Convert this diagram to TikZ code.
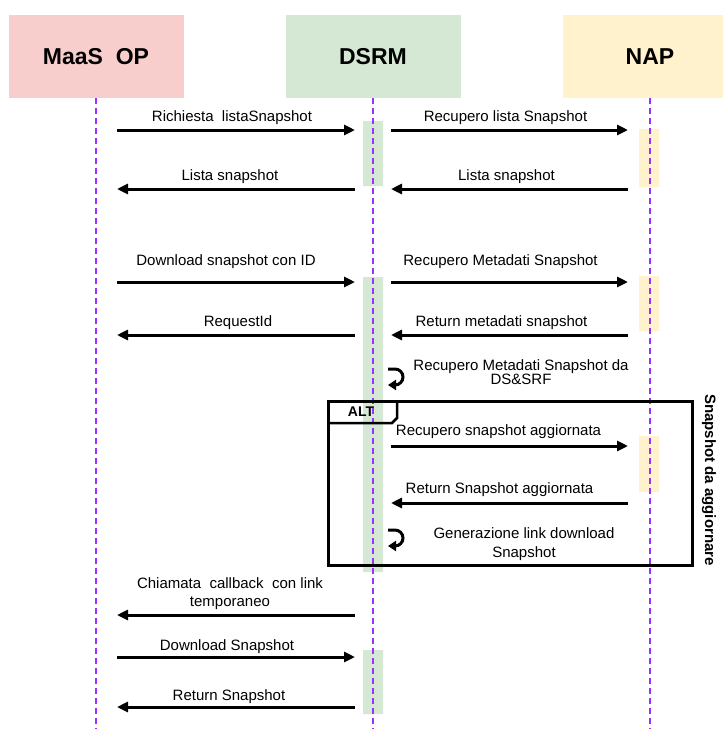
\documentclass[tikz,border=0pt]{standalone}
\usepackage{fontspec}
\setmainfont{Liberation Sans}
\usetikzlibrary{arrows.meta}
\definecolor{maasred}{HTML}{F8CECC}
\definecolor{dsrmgreen}{HTML}{D5E8D4}
\definecolor{napyellow}{HTML}{FFF2CC}
\definecolor{lifeviolet}{HTML}{9B30FF}
\tikzset{
  hdr/.style={minimum width=175pt,minimum height=83pt,inner sep=0pt,font=\fontsize{23}{26}\selectfont\bfseries},
  life/.style={lifeviolet,line width=1.8pt,dash pattern=on 6pt off 4pt},
  msg/.style={line width=3pt,-{Triangle[length=11pt,width=10pt]}},
  selfmsg/.style={line width=3pt,-{Triangle[length=8pt,width=10pt]}},
  lbl/.style={midway,anchor=base,yshift=9pt,xshift=-6pt,inner sep=0pt,font=\fontsize{15}{18}\selectfont},
  note/.style={inner sep=0pt,align=center,font=\fontsize{15}{19}\selectfont}
}
\begin{document}
\begin{tikzpicture}[x=1pt,y=1pt]
\useasboundingbox (0,0) rectangle (723,-729);
\node[hdr,fill=maasred] (maas) at (96,-56.5) {MaaS~ OP};
\node[hdr,fill=dsrmgreen] (dsrm) at (373,-56.5) {DSRM};
\node[hdr,fill=napyellow] (nap) at (650,-56.5) {NAP};
\fill[dsrmgreen] (363,-121) rectangle (383,-186) (363,-277) rectangle (383,-572) (363,-650) rectangle (383,-714);
\fill[napyellow] (639,-129) rectangle (659,-187) (639,-276) rectangle (659,-331) (639,-436) rectangle (659,-492);
\foreach \n in {maas,dsrm,nap} \draw[life] (\n.south) -- (\n.south |- 0,-729);
\foreach \r/\y in {1/130,2/189,3/282,4/335,5/446,6/503,7/615,8/657,9/707}{
  \coordinate (m\r) at (117,-\y); \coordinate (dl\r) at (355,-\y);
  \coordinate (dr\r) at (391,-\y); \coordinate (n\r) at (628,-\y);
}
\draw[msg] (m1) -- (dl1) node[lbl,xshift=2pt]{Richiesta~ listaSnapshot};
\draw[msg] (dr1) -- (n1) node[lbl,xshift=2pt]{Recupero lista Snapshot};
\draw[msg] (dl2) -- (m2) node[lbl]{Lista snapshot};
\draw[msg] (n2) -- (dr2) node[lbl,xshift=3pt]{Lista snapshot};
\draw[msg] (m3) -- (dl3) node[lbl,yshift=8pt,xshift=-4pt]{Download snapshot con ID};
\draw[msg] (dr3) -- (n3) node[lbl,yshift=8pt,xshift=-3pt]{Recupero Metadati Snapshot};
\draw[msg] (dl4) -- (m4) node[lbl,xshift=8pt]{RequestId};
\draw[msg] (n4) -- (dr4) node[lbl,xshift=-2pt]{Return metadati snapshot};
\draw[msg] (dr5) -- (n5) node[lbl,yshift=2pt,xshift=-5pt]{Recupero snapshot aggiornata};
\draw[msg] (n6) -- (dr6) node[lbl,yshift=1pt,xshift=-4pt]{Return Snapshot aggiornata};
\draw[msg] (dl7) -- (m7) node[lbl,anchor=south,yshift=-5pt,align=center]{Chiamata~ callback~ con link\\temporaneo};
\draw[msg] (m8) -- (dl8) node[lbl,yshift=-2pt,xshift=-3pt]{Download Snapshot};
\draw[msg] (dl9) -- (m9) node[lbl,yshift=-2pt,xshift=-1pt]{Return Snapshot};
\coordinate (loopa) at (388,-369);
\coordinate (loopb) at (388,-530);
\draw[selfmsg] (loopa) -- ++(7,0) arc[start angle=90,end angle=-90,radius=8pt] -- ++(-7,0);
\draw[selfmsg] (loopb) -- ++(7,0) arc[start angle=90,end angle=-90,radius=8pt] -- ++(-7,0);
\node[note,font=\fontsize{15}{14.5}\selectfont] (loopatxt) at (521,-372) {Recupero Metadati Snapshot da\\DS\&SRF};
\node[note] (loopbtxt) at (524,-544) {Generazione link download\\Snapshot};
\draw[line width=3pt] (328,-401) rectangle (692,-565);
\draw[line width=2.5pt] (328,-423) -- (392,-423) -- (397,-418) -- (397,-401);
\node[font=\fontsize{14}{16}\selectfont\bfseries] (alt) at (361,-412) {ALT};
\node[rotate=-90,font=\fontsize{15}{18}\selectfont\bfseries] (cond) at (709,-480) {Snapshot da aggiornare};
\end{tikzpicture}
\end{document}
